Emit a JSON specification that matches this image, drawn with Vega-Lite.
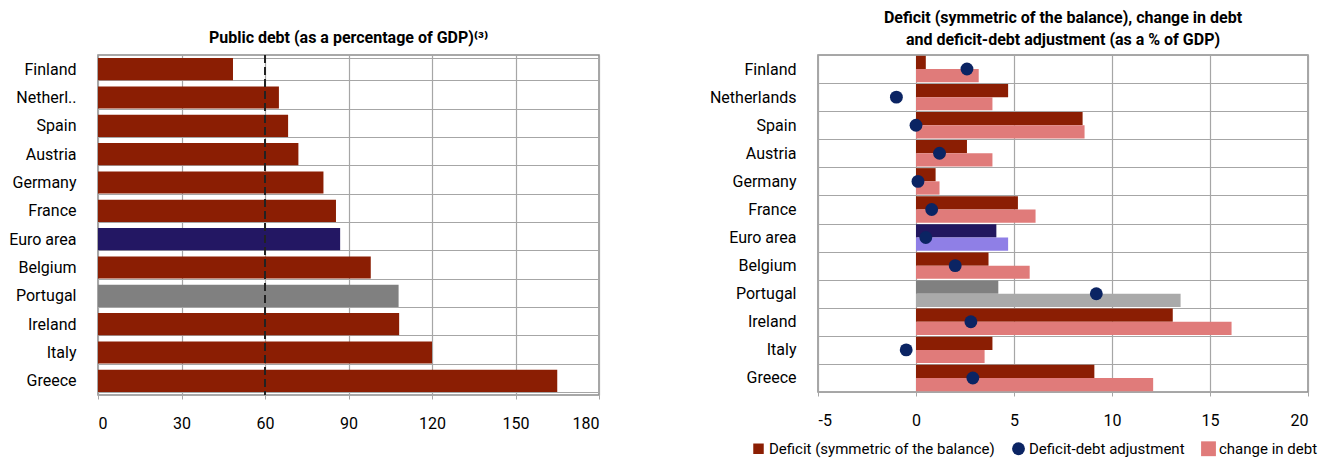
{
  "$schema": "https://vega.github.io/schema/vega-lite/v6.json",
  "padding": {"left": 7, "top": 9, "right": 0, "bottom": 0},
  "background": "white",
  "config": {
    "font": "Roboto",
    "view": {"stroke": "#8c8c8c", "strokeWidth": 1.5},
    "axis": {"labelFont": "Roboto", "labelFontSize": 16, "labelColor": "#000", "gridColor": "#a6a6a6", "gridWidth": 1.2, "domain": false},
    "title": {"font": "Roboto", "fontSize": 16, "fontWeight": "bold", "color": "#000", "offset": 3, "lineHeight": 22},
    "legend": {"labelFont": "Roboto", "labelFontSize": 15, "labelColor": "#000", "labelLimit": 400},
    "concat": {"spacing": 107}
  },
  "resolve": {"legend": {"color": "independent", "shape": "independent", "size": "independent"}},
  "datasets": {
    "debt": [
      {"country": "Finland", "debt": 48.5},
      {"country": "Netherlands", "debt": 65},
      {"country": "Spain", "debt": 68.3},
      {"country": "Austria", "debt": 72},
      {"country": "Germany", "debt": 81},
      {"country": "France", "debt": 85.5},
      {"country": "Euro area", "debt": 87},
      {"country": "Belgium", "debt": 98},
      {"country": "Portugal", "debt": 108},
      {"country": "Ireland", "debt": 108.2},
      {"country": "Italy", "debt": 120},
      {"country": "Greece", "debt": 165}
    ],
    "flows": [
      {"country": "Finland", "series": "Deficit (symmetric of the balance)", "value": 0.5},
      {"country": "Finland", "series": "change in debt", "value": 3.2},
      {"country": "Netherlands", "series": "Deficit (symmetric of the balance)", "value": 4.7},
      {"country": "Netherlands", "series": "change in debt", "value": 3.9},
      {"country": "Spain", "series": "Deficit (symmetric of the balance)", "value": 8.5},
      {"country": "Spain", "series": "change in debt", "value": 8.6},
      {"country": "Austria", "series": "Deficit (symmetric of the balance)", "value": 2.6},
      {"country": "Austria", "series": "change in debt", "value": 3.9},
      {"country": "Germany", "series": "Deficit (symmetric of the balance)", "value": 1.0},
      {"country": "Germany", "series": "change in debt", "value": 1.2},
      {"country": "France", "series": "Deficit (symmetric of the balance)", "value": 5.2},
      {"country": "France", "series": "change in debt", "value": 6.1},
      {"country": "Euro area", "series": "Deficit (symmetric of the balance)", "value": 4.1},
      {"country": "Euro area", "series": "change in debt", "value": 4.7},
      {"country": "Belgium", "series": "Deficit (symmetric of the balance)", "value": 3.7},
      {"country": "Belgium", "series": "change in debt", "value": 5.8},
      {"country": "Portugal", "series": "Deficit (symmetric of the balance)", "value": 4.2},
      {"country": "Portugal", "series": "change in debt", "value": 13.5},
      {"country": "Ireland", "series": "Deficit (symmetric of the balance)", "value": 13.1},
      {"country": "Ireland", "series": "change in debt", "value": 16.1},
      {"country": "Italy", "series": "Deficit (symmetric of the balance)", "value": 3.9},
      {"country": "Italy", "series": "change in debt", "value": 3.5},
      {"country": "Greece", "series": "Deficit (symmetric of the balance)", "value": 9.1},
      {"country": "Greece", "series": "change in debt", "value": 12.1}
    ],
    "dda": [
      {"country": "Finland", "series": "Deficit-debt adjustment", "value": 2.6},
      {"country": "Netherlands", "series": "Deficit-debt adjustment", "value": -1.0},
      {"country": "Spain", "series": "Deficit-debt adjustment", "value": 0.0},
      {"country": "Austria", "series": "Deficit-debt adjustment", "value": 1.2},
      {"country": "Germany", "series": "Deficit-debt adjustment", "value": 0.1},
      {"country": "France", "series": "Deficit-debt adjustment", "value": 0.8},
      {"country": "Euro area", "series": "Deficit-debt adjustment", "value": 0.5},
      {"country": "Belgium", "series": "Deficit-debt adjustment", "value": 2.0},
      {"country": "Portugal", "series": "Deficit-debt adjustment", "value": 9.2},
      {"country": "Ireland", "series": "Deficit-debt adjustment", "value": 2.8},
      {"country": "Italy", "series": "Deficit-debt adjustment", "value": -0.5},
      {"country": "Greece", "series": "Deficit-debt adjustment", "value": 2.9}
    ]
  },
  "hconcat": [
    {
      "width": 501,
      "height": 340,
      "title": {"text": "Public debt (as a percentage of GDP)⁽³⁾", "offset": 1},
      "layer": [
        {
          "data": {"name": "debt"},
          "mark": {"type": "bar"},
          "encoding": {
            "y": {"field": "country", "type": "nominal", "sort": ["Finland","Netherlands","Spain","Austria","Germany","France","Euro area","Belgium","Portugal","Ireland","Italy","Greece"], "scale": {"paddingInner": 0.22, "paddingOuter": 0.11}, "title": null,
              "axis": {"grid": true, "tickBand": "extent", "ticks": false, "labelPadding": 22, "labelExpr": "datum.label == 'Netherlands' ? 'Netherl..' : datum.label"}},
            "x": {"field": "debt", "type": "quantitative", "scale": {"domain": [0, 180], "nice": false}, "title": null,
              "axis": {"values": [0, 30, 60, 90, 120, 150, 180], "tickSize": 4, "tickColor": "#a6a6a6", "labelPadding": 16}},
            "color": {"condition": [{"test": "datum.country === 'Euro area'", "value": "#231763"}, {"test": "datum.country === 'Portugal'", "value": "#808080"}], "value": "#8b1e03"}
          }
        },
        {
          "data": {"values": [{"ref": 60}]},
          "mark": {"type": "rule", "strokeDash": [8, 4], "strokeWidth": 2, "color": "#222222"},
          "encoding": {"x": {"field": "ref", "type": "quantitative"}}
        }
      ]
    },
    {
      "width": 490,
      "height": 337,
      "title": {"text": ["Deficit (symmetric of the balance), change in debt", "and deficit-debt adjustment (as a % of GDP)"], "offset": -1},
      "layer": [
        {
          "data": {"name": "flows"},
          "mark": {"type": "bar"},
          "encoding": {
            "y": {"field": "country", "type": "nominal", "sort": ["Finland","Netherlands","Spain","Austria","Germany","France","Euro area","Belgium","Portugal","Ireland","Italy","Greece"], "scale": {"paddingInner": 0, "paddingOuter": 0}, "title": null,
              "axis": {"grid": true, "tickBand": "extent", "ticks": false, "labelPadding": 22}},
            "yOffset": {"field": "series", "type": "nominal", "sort": ["Deficit (symmetric of the balance)", "change in debt"], "scale": {"paddingOuter": 0.06, "paddingInner": 0}},
            "x": {"field": "value", "type": "quantitative", "scale": {"domain": [-5, 20], "nice": false}, "title": null,
              "axis": {"values": [-5, 0, 5, 10, 15, 20], "labelExpr": "'' + datum.value", "tickSize": 4, "tickColor": "#a6a6a6", "labelPadding": 16}},
            "color": {
              "condition": [
                {"test": "datum.country === 'Euro area' && datum.series === 'change in debt'", "value": "#8f7fe6"},
                {"test": "datum.country === 'Euro area'", "value": "#22175f"},
                {"test": "datum.country === 'Portugal' && datum.series === 'change in debt'", "value": "#aaaaaa"},
                {"test": "datum.country === 'Portugal'", "value": "#808080"}
              ],
              "field": "series", "type": "nominal",
              "scale": {"domain": ["Deficit (symmetric of the balance)", "Deficit-debt adjustment", "change in debt"], "range": ["#8b1e03", "#0b2463", "#e07b7a"]},
              "legend": {"orient": "none", "legendX": -67, "legendY": 386, "direction": "horizontal", "title": null, "columnPadding": 16, "labelOffset": 3, "symbolStrokeWidth": 0}
            }
          }
        },
        {
          "data": {"name": "dda"},
          "mark": {"type": "point", "filled": true, "opacity": 1},
          "encoding": {
            "y": {"field": "country", "type": "nominal", "sort": ["Finland","Netherlands","Spain","Austria","Germany","France","Euro area","Belgium","Portugal","Ireland","Italy","Greece"]},
            "x": {"field": "value", "type": "quantitative"},
            "color": {"field": "series", "type": "nominal"},
            "shape": {"field": "series", "type": "nominal", "scale": {"domain": ["Deficit (symmetric of the balance)", "Deficit-debt adjustment", "change in debt"], "range": ["square", "circle", "square"]}},
            "size": {"field": "series", "type": "nominal", "scale": {"domain": ["Deficit (symmetric of the balance)", "Deficit-debt adjustment", "change in debt"], "range": [110, 220, 110]}}
          }
        }
      ]
    }
  ]
}
